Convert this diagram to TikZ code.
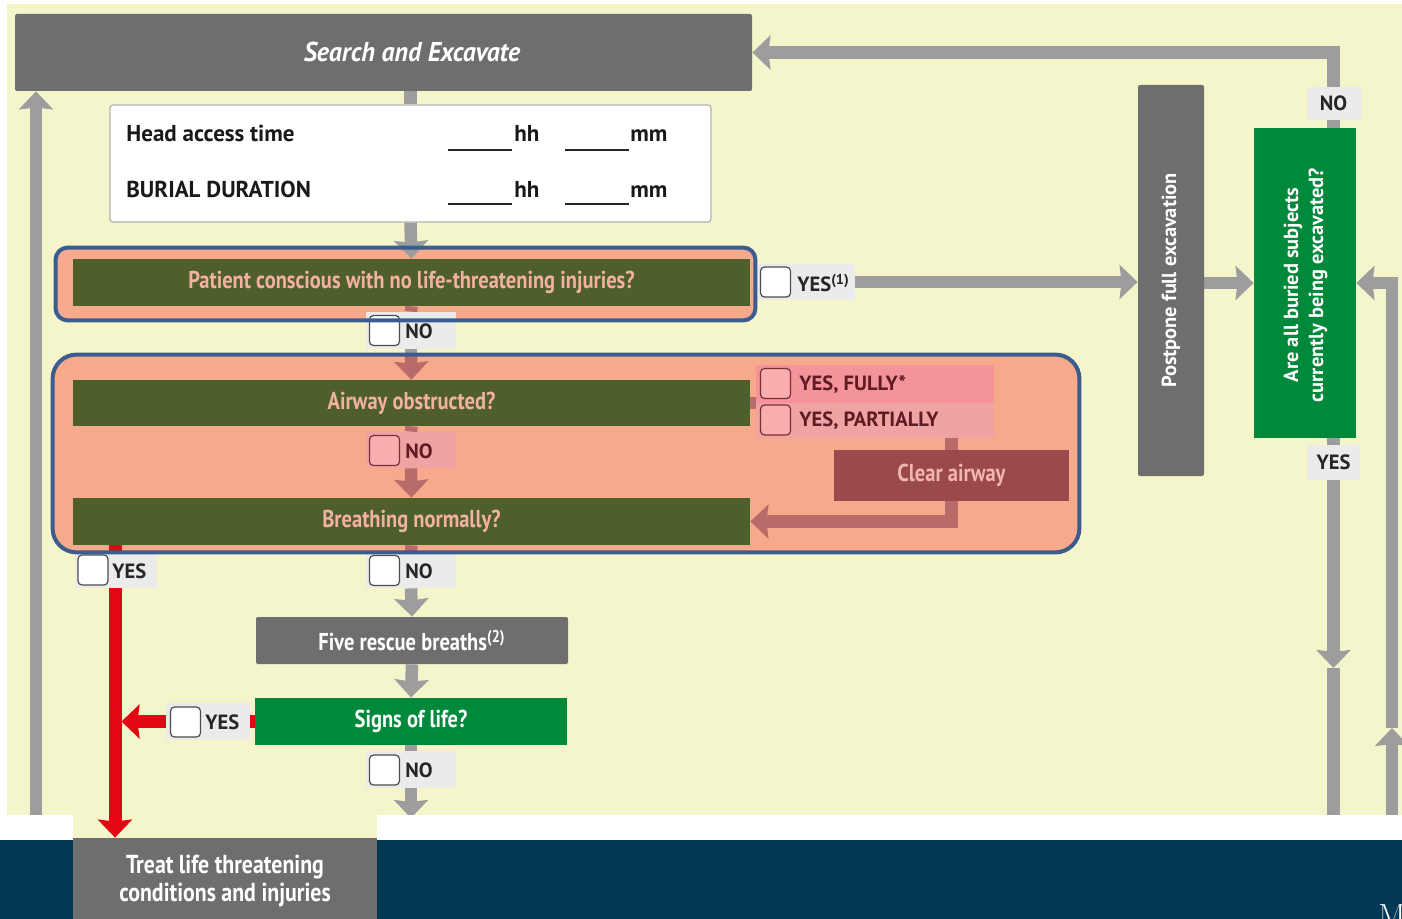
\documentclass[tikz,border=0pt]{standalone}
\usepackage{fontspec}
\newfontfamily\ptcond[FakeStretch=0.84]{PT Sans}
\newfontfamily\ptwide[FakeStretch=0.95]{PT Sans}
\newfontfamily\ptsans{PT Sans}
\usetikzlibrary{arrows.meta,calc}

\definecolor{paper}{HTML}{F4F5CB}
\definecolor{boxgray}{HTML}{6E6E6E}
\definecolor{linegray}{HTML}{9D9D9D}
\definecolor{tagbg}{HTML}{EBEBEB}
\definecolor{olive}{HTML}{4F5F2B}
\definecolor{salmon}{HTML}{F6AA8B}
\definecolor{zoneblue}{HTML}{3A5C8E}
\definecolor{pinktext}{HTML}{F3B2A1}
\definecolor{rust}{HTML}{B96B6A}
\definecolor{clearbox}{HTML}{9A4A4B}
\definecolor{cleartext}{HTML}{F2B6AD}
\definecolor{okgreen}{HTML}{00893B}
\definecolor{alarm}{HTML}{E30613}
\definecolor{navy}{HTML}{023A55}
\definecolor{maroon}{HTML}{5E1B24}
\definecolor{tagfull}{HTML}{F4949A}
\definecolor{tagpart}{HTML}{EFA3A3}
\definecolor{chkpink}{HTML}{FBADAD}
\definecolor{chkedge}{HTML}{7A2E36}

\pgfdeclarelayer{back}
\pgfdeclarelayer{wires}
\pgfsetlayers{back,wires,main}

\tikzset{
  plainbox/.style={inner sep=0pt, align=center},
  graybox/.style={plainbox, fill=boxgray, text=white, rounded corners=1pt},
  greenbox/.style={plainbox, fill=okgreen, text=white},
  olivebox/.style={plainbox, fill=olive, text=pinktext},
  qfont/.style={font=\ptcond\bfseries\fontsize{12.2}{14}\selectfont},
  vfont/.style={font=\ptsans\bfseries\fontsize{10.2}{12.5}\selectfont},
  flowline/.style={draw=linegray, line width=6.25pt},
  rustline/.style={draw=rust, line width=6.25pt},
  redline/.style={draw=alarm, line width=6.5pt},
  arrowtip/.style={-{Stealth[length=9pt,width=17pt,inset=1pt]}},
  tagbox/.style={fill=tagbg, inner sep=0pt},
  chkbox/.style={fill=white, draw=black!70, line width=0.6pt, rounded corners=2pt,
                 minimum width=15pt, minimum height=15pt, inner sep=0pt},
  pinkchk/.style={chkbox, fill=chkpink, draw=chkedge},
  tagtext/.style={anchor=west, inner sep=0pt, text=black!85,
                  font=\ptsans\bfseries\fontsize{10.3}{12}\selectfont},
  zonefill/.style={fill=salmon, inner sep=0pt},
  zoneline/.style={draw=zoneblue, line width=2pt},
}

\begin{document}
\begin{tikzpicture}[x=0.5pt,y=-0.5pt]
\useasboundingbox (0,0) rectangle (1402,919);

% paper and the two tinted groups
\begin{pgfonlayer}{back}
  \fill[white] (0,0) rectangle (1402,919);
  \fill[paper] (7,4) rectangle (1402,840);
  \node[zonefill, rounded corners=6pt, minimum width=349.5pt, minimum height=36pt] (zone1) at (405.5,284) {};
  \node[zonefill, rounded corners=12pt, minimum width=513pt, minimum height=98.5pt] (zone2) at (566,453.5) {};
\end{pgfonlayer}

% top of the flow
\node[graybox, minimum width=368.5pt, minimum height=38.5pt] (search) at (383.5,52.5) {};
\node[inner sep=0pt, text=white, font=\ptwide\bfseries\itshape\fontsize{13.6}{15}\selectfont] (searcht) at (412,52) {Search and Excavate};

\node[draw=black!30, fill=white, line width=0.6pt, rounded corners=1.5pt,
      minimum width=300.5pt, minimum height=58.5pt] (info) at (410.5,163.5) {};
\begin{scope}[every node/.style={anchor=base west, inner sep=0pt, text=black!90,
              font=\ptsans\bfseries\fontsize{11.5}{13}\selectfont}]
  \node (hat)  at (126,142) {Head access time};
  \node (hath) at (514,142) {hh};
  \node (hatm) at (630,142) {mm};
  \node (bd)   at (126,198) {BURIAL DURATION};
  \node (bdh)  at (514,198) {hh};
  \node (bdm)  at (630,198) {mm};
\end{scope}
\draw[black!85, line width=0.8pt] (448,150) -- (512,150) (565,150) -- (629,150)
                                  (448,204) -- (512,204) (565,204) -- (629,204);

% first question
\node[olivebox, qfont, minimum width=338.5pt, minimum height=23.5pt] (patient) at (411.5,282.5)
  {Patient conscious with no life-threatening injuries?};

\node[tagbox, minimum width=49pt, minimum height=18pt] (yes1) at (806,282) {};
\node[chkbox] (yes1c) at (775.5,282) {};
\node[tagtext] (yes1t) at (797,283) {YES\textsuperscript{(1)}};

\node[tagbox, minimum width=45pt, minimum height=18.5pt] (no1) at (411,330.5) {};
\node[chkbox] (no1c) at (384.5,330.5) {};
\node[tagtext] (no1t) at (405,331) {NO};

% airway and breathing group
\node[olivebox, qfont, minimum width=338.5pt, minimum height=23pt] (airway) at (411.5,403) {Airway obstructed?};

\node[inner sep=0pt, fill=tagfull, minimum width=119pt, minimum height=19pt] (yf) at (875,384) {};
\node[pinkchk] (yfc) at (775.5,383.5) {};
\node[tagtext, text=maroon] (yft) at (799,384.5) {YES, FULLY*};
\node[inner sep=0pt, fill=tagpart, minimum width=119pt, minimum height=17.5pt] (yp) at (875,420.5) {};
\node[pinkchk] (ypc) at (775.5,420) {};
\node[tagtext, text=maroon] (ypt) at (799,421) {YES, PARTIALLY};

\node[plainbox, fill=clearbox, text=cleartext, qfont, minimum width=117.5pt, minimum height=25.5pt] (clear) at (951.5,475.5) {Clear airway};

\node[inner sep=0pt, fill=tagpart, minimum width=45pt, minimum height=18pt] (no2) at (411,450) {};
\node[pinkchk] (no2c) at (384.5,450.5) {};
\node[tagtext, text=maroon] (no2t) at (405,451) {NO};

\node[olivebox, qfont, minimum width=338.5pt, minimum height=23.5pt] (breath) at (411.5,521.5) {Breathing normally?};

% below the group
\node[tagbox, minimum width=41pt, minimum height=17.5pt] (yesb) at (116,570.5) {};
\node[chkbox] (yesbc) at (93,570) {};
\node[tagtext] (yesbt) at (112,571) {YES};

\node[tagbox, minimum width=45pt, minimum height=17.5pt] (no3) at (411,570.5) {};
\node[chkbox] (no3c) at (384.5,570.5) {};
\node[tagtext] (no3t) at (405,571) {NO};

\node[graybox, qfont, minimum width=156pt, minimum height=23.5pt] (five) at (412,640.5) {Five rescue breaths\textsuperscript{(2)}};
\node[greenbox, qfont, minimum width=156pt, minimum height=23.5pt] (signs) at (411,721.5) {Signs of life?};

\node[tagbox, minimum width=42pt, minimum height=18.5pt] (yess) at (208,721.5) {};
\node[chkbox] (yessc) at (185.5,722) {};
\node[tagtext] (yesst) at (205,722.5) {YES};

\node[tagbox, minimum width=45pt, minimum height=18.5pt] (no4) at (411,769.5) {};
\node[chkbox] (no4c) at (384.5,770) {};
\node[tagtext] (no4t) at (405,770.5) {NO};

% right-hand column
\node[graybox, minimum width=33pt, minimum height=195.5pt] (postpone) at (1171,280.5) {};
\node[rotate=90, inner sep=0pt, text=white, vfont] (postponet) at (postpone.center) {Postpone full excavation};

\node[greenbox, minimum width=51pt, minimum height=155pt] (allq) at (1305,283) {};
\node[rotate=90, inner sep=0pt, text=white, vfont, align=center] (allqt) at (1305.5,285)
  {Are all buried subjects\\currently being excavated?};

\node[tagbox, minimum width=27pt, minimum height=16.5pt, font=\ptsans\bfseries\fontsize{10.3}{12}\selectfont, text=black!85] (qno) at (1333.5,103.5) {NO};
\node[tagbox, minimum width=26.5pt, minimum height=17.5pt, font=\ptsans\bfseries\fontsize{10.3}{12}\selectfont, text=black!85] (qyes) at (1333.5,462.5) {YES};

\coordinate (rx) at (115,0);
\coordinate (downmark) at (1333.5,668);
\coordinate (downend) at (1333.5,815);
\coordinate (upmark) at (1392,728);
\coordinate (upstart) at (1392,815);
\coordinate (leftstart) at (36,815);
\coordinate (bottomend) at (411,818);

% connectors
\begin{pgfonlayer}{wires}
  \draw[flowline] (search.south -| info.north) -- (info.north);
  \draw[flowline, arrowtip] (info.south) -- (patient.north);
  \draw[rustline] (patient.south) -- (no1.north);
  \draw[flowline] (no1.south) -- (no1.south |- zone2.north);
  \draw[rustline, arrowtip] (no1.south |- zone2.north) -- (airway.north);
  \draw[rustline] (airway.south) -- (no2.north);
  \draw[rustline, arrowtip] (no2.south) -- (breath.north);
  \draw[rustline] (airway.east) -- (airway.east -| yf.west);
  \draw[rustline] (clear.north |- yp.south) -- (clear.north);
  \draw[rustline, arrowtip] (clear.south) -- (clear.south |- breath.east) -- (breath.east);
  \draw[rustline] (breath.south) -- (no3.north);
  \draw[flowline, arrowtip] (no3.south) -- (five.north);
  \draw[flowline, arrowtip] (five.south) -- (signs.north);
  \draw[flowline] (signs.south) -- (no4.north);
  \draw[flowline, arrowtip] (no4.south) -- (bottomend);

  \draw[redline] (breath.south -| rx) -- (yesb.north -| rx);
  \draw[redline] (signs.west) -- (yess.east);
  \draw[redline, arrowtip] (yess.west) -- ($(yess.west -| rx)+(6.5,0)$);

  \draw[flowline, arrowtip] (yes1.east) -- (yes1.east -| postpone.west);
  \draw[flowline, arrowtip] (allq.west -| postpone.east) -- (allq.west);
  \draw[flowline] (qno.south |- allq.north) -- (qno.south);
  \draw[flowline, arrowtip] (qno.north) |- (search.east);
  \draw[flowline] (allq.south -| qyes.north) -- (qyes.north);
  \draw[flowline, arrowtip] (qyes.south) -- (downmark);
  \draw[flowline] (downmark) -- (downend);
  \draw[flowline, arrowtip] (upstart) -- (upmark);
  \draw[flowline, arrowtip] (upmark) |- (allq.east);
  \draw[flowline, arrowtip] (leftstart) -- (leftstart |- search.south);
\end{pgfonlayer}

% group outlines
\draw[zoneline, rounded corners=6pt] (zone1.north west) rectangle (zone1.south east);
\draw[zoneline, rounded corners=12pt] (zone2.north west) rectangle (zone2.south east);

% footer band
\fill[white] (0,815) rectangle (73,840);
\fill[white] (377,815) rectangle (1402,840);
\fill[navy] (0,840) rectangle (1402,919);

\node[graybox, rounded corners=0pt, minimum width=152pt, minimum height=42pt] (treat) at (225,880) {};
\node[inner sep=0pt, align=center, text=white, font=\ptcond\bfseries\fontsize{13}{14}\selectfont] (treatt) at (225,881)
  {Treat life threatening\\conditions and injuries};
\draw[redline, arrowtip] (yesb.south -| rx) -- (treat.north -| rx);

\node[anchor=north west, inner sep=0pt, text=white, font=\rmfamily\fontsize{16}{16}\selectfont] (edgeM) at (1378,904) {M};
\end{tikzpicture}
\end{document}
